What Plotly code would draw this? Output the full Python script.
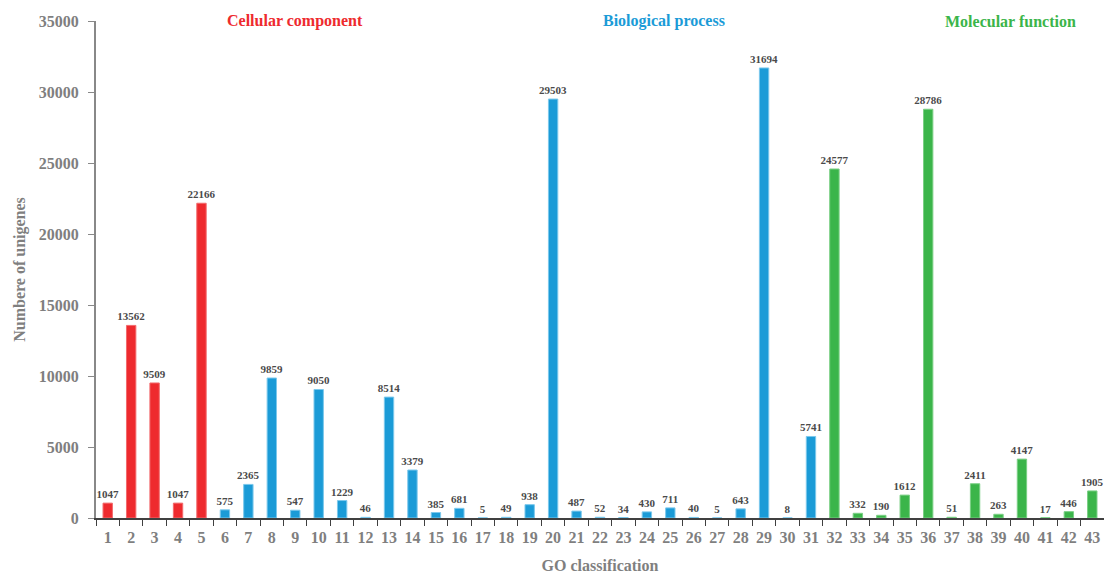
import plotly.graph_objects as go

categories = [str(i) for i in range(1, 44)]
values = [1047, 13562, 9509, 1047, 22166, 575, 2365, 9859, 547, 9050, 1229, 46, 8514,
          3379, 385, 681, 5, 49, 938, 29503, 487, 52, 34, 430, 711, 40, 5, 643, 31694,
          8, 5741, 24577, 332, 190, 1612, 28786, 51, 2411, 263, 4147, 17, 446, 1905]
groups = ["Cellular component"] * 5 + ["Biological process"] * 26 + ["Molecular function"] * 12
group_colors = {"Cellular component": "#EE2A2E",
                "Biological process": "#1B9BD7",
                "Molecular function": "#3BB54A"}
edge_colors = {"Cellular component": "#F26A6C",
               "Biological process": "#7CC8EC",
               "Molecular function": "#7ACF84"}
# category-index positions (0-based) of the group headings
group_title_pos = {"Cellular component": 8.0, "Biological process": 23.75, "Molecular function": 38.5}

FONT = "Liberation Serif"
fig = go.Figure()
fig.add_trace(go.Bar(
    x=categories, y=values,
    marker=dict(color=[group_colors[g] for g in groups],
                line=dict(color=[edge_colors[g] for g in groups], width=1)),
    width=0.4,
    text=[str(v) for v in values], textposition="outside", cliponaxis=False,
    constraintext="none",
    textfont=dict(family=FONT, size=11, color="#4A4A4A", weight="bold"),
    showlegend=False, hoverinfo="x+y",
))

for g, xpos in group_title_pos.items():
    fig.add_annotation(x=xpos, y=35000, xref="x", yref="y", text=g, showarrow=False,
                       font=dict(family=FONT, size=16, color=group_colors[g], weight="bold"),
                       xanchor="center", yanchor="middle")

fig.update_layout(
    width=1104, height=574,
    margin=dict(l=96, r=0, t=21, b=56),
    paper_bgcolor="white", plot_bgcolor="white",
    bargap=0.6,
    font=dict(family=FONT),
    xaxis=dict(type="category", range=[-0.5, 42.5], showline=True, linecolor="#404040", linewidth=1.5,
               ticks="outside", tickson="boundaries", ticklen=6, tickcolor="#404040",
               tickangle=0, automargin=False, ticklabelstandoff=4,
               tickfont=dict(family=FONT, size=16, color="#7F7F7F", weight="bold"),
               showgrid=False,
               title=dict(text="GO classification", standoff=20,
                          font=dict(family=FONT, size=16, color="#7F7F7F", weight="bold"))),
    yaxis=dict(range=[0, 35000], dtick=5000, tickformat="d", showline=True, linecolor="#888888",
               linewidth=2, automargin=False,
               ticks="outside", ticklen=6, tickcolor="#888888", showgrid=False, zeroline=False,
               tickfont=dict(family=FONT, size=16, color="#7F7F7F", weight="bold"),
               ticklabelstandoff=6,
               title=dict(text="Numbere of unigenes", standoff=9,
                          font=dict(family=FONT, size=16, color="#7F7F7F", weight="bold"))),
)

fig.write_html("out.html", config={"displayModeBar": False},
               post_script="document.body.style.margin='0';document.body.style.overflow='hidden';")
